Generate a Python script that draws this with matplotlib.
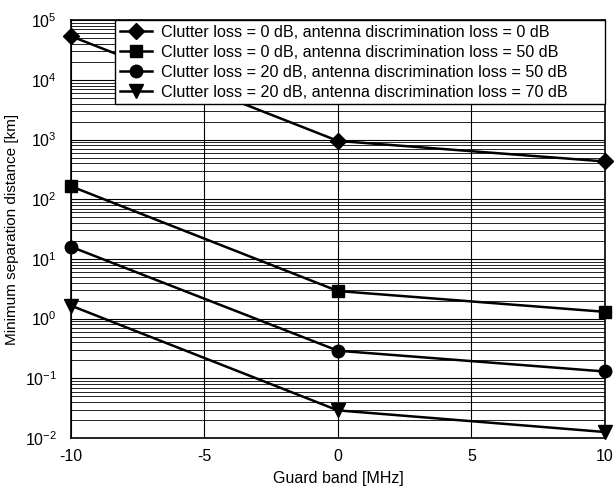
import numpy as np
import matplotlib
matplotlib.use('Agg')
import matplotlib.pyplot as plt
from matplotlib.ticker import LogLocator

plt.rcParams['font.family'] = ['Liberation Sans', 'DejaVu Sans']
plt.rcParams['mathtext.fontset'] = 'custom'
plt.rcParams['mathtext.rm'] = 'Liberation Sans'
plt.rcParams['axes.unicode_minus'] = False

# Guard band values [MHz]
guard_band = np.array([-10, 0, 10])

# Minimum separation distance [km] for each case
dist_c0_a0 = np.array([54000, 950, 430])
dist_c0_a50 = np.array([165, 2.9, 1.3])
dist_c20_a50 = np.array([16, 0.29, 0.13])
dist_c20_a70 = np.array([1.65, 0.029, 0.0126])

labels = [
    'Clutter loss = 0 dB, antenna discrimination loss = 0 dB',
    'Clutter loss = 0 dB, antenna discrimination loss = 50 dB',
    'Clutter loss = 20 dB, antenna discrimination loss = 50 dB',
    'Clutter loss = 20 dB, antenna discrimination loss = 70 dB',
]
series = [dist_c0_a0, dist_c0_a50, dist_c20_a50, dist_c20_a70]
markers = ['D', 's', 'o', 'v']
msizes = [8, 8, 9, 10]

fig = plt.figure(figsize=(6.14, 4.93), dpi=100)
ax = fig.add_axes([0.1156, 0.1116, 0.8694, 0.8474])

for y, m, ms, lab in zip(series, markers, msizes, labels):
    ax.plot(guard_band, y, color='black', lw=1.8, marker=m, markersize=ms,
            label=lab, clip_on=False, zorder=3)

ax.set_yscale('log')
ax.set_xlim(-10, 10)
ax.set_ylim(1e-2, 1e5)
ax.set_xticks([-10, -5, 0, 5, 10])
ax.set_xticklabels(['-10', '-5', '0', '5', '10'])
ax.yaxis.set_major_locator(LogLocator(base=10, numticks=10))
ax.yaxis.set_minor_locator(LogLocator(base=10, subs=np.arange(2, 10), numticks=20))
ax.tick_params(which='both', length=0, labelsize=11.5)
ax.tick_params(axis='x', pad=8)
ax.tick_params(axis='y', pad=10)
ax.grid(True, which='major', axis='both', color='black', lw=0.8)
ax.grid(True, which='minor', axis='y', color='black', lw=0.6)
for s in ax.spines.values():
    s.set_linewidth(1.2)

ax.set_xlabel('Guard band [MHz]', fontsize=11.5, labelpad=5)
ax.set_ylabel('Minimum separation distance [km]', fontsize=11, labelpad=4)

leg = ax.legend(loc='upper left', bbox_to_anchor=(0.082, 0, 0.918, 1),
                mode='expand', fontsize=11.6, fancybox=False, framealpha=1,
                edgecolor='black', borderaxespad=0, handlelength=2.0,
                handletextpad=0.6, labelspacing=0.3, borderpad=0.3)
leg.get_frame().set_linewidth(1.0)

fig.savefig('out.png', dpi=100)
